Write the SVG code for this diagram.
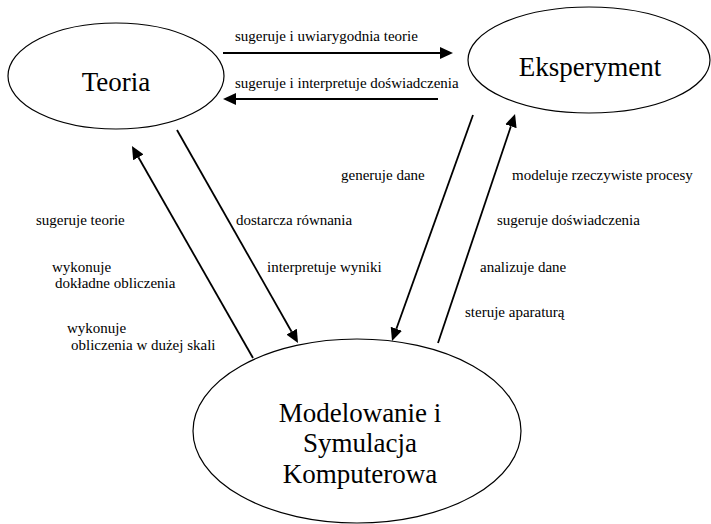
<svg xmlns="http://www.w3.org/2000/svg" width="711" height="524" viewBox="0 0 711 524">
  <style>
    .node { fill: #ffffff; stroke: #000000; stroke-width: 1.2; }
    .title { font-family: "Times New Roman", Tinos, "Liberation Serif", "DejaVu Serif", "Noto Serif", FreeSerif, serif; font-size: 27px; fill: #000000; text-anchor: middle; }
    .label { font-family: "Times New Roman", Tinos, "Liberation Serif", "DejaVu Serif", "Noto Serif", FreeSerif, serif; font-size: 15px; fill: #000000; }
    .edge { stroke: #000000; stroke-width: 1.8; fill: none; marker-end: url(#arrow); }
  </style>
  <defs>
    <marker id="arrow" markerUnits="userSpaceOnUse" markerWidth="13" markerHeight="12" refX="0" refY="6" orient="auto">
      <path d="M0,0 L13,6 L0,12 z" fill="#000000"/>
    </marker>
  </defs>
  <rect width="711" height="524" fill="#ffffff"/>

  <!-- nodes -->
  <g id="teoria">
    <ellipse class="node" cx="116" cy="76" rx="108" ry="53"/>
    <text class="title" x="116" y="91">Teoria</text>
  </g>
  <g id="eksperyment">
    <ellipse class="node" cx="589" cy="60" rx="121" ry="53"/>
    <text class="title" x="590" y="76">Eksperyment</text>
  </g>
  <g id="modelowanie">
    <ellipse class="node" cx="357" cy="431" rx="164" ry="92"/>
    <text class="title" x="360" y="422">Modelowanie i</text>
    <text class="title" x="360" y="452">Symulacja</text>
    <text class="title" x="360" y="483">Komputerowa</text>
  </g>

  <!-- connectors (each line stops at the arrowhead base) -->
  <g id="connectors">
    <line class="edge" x1="223" y1="53" x2="440" y2="53"/>
    <line class="edge" x1="438" y1="99" x2="236" y2="99"/>
    <line class="edge" x1="177" y1="130" x2="291.6" y2="331.7"/>
    <line class="edge" x1="253" y1="358" x2="138.4" y2="157.3"/>
    <line class="edge" x1="473" y1="115" x2="396.4" y2="328.8"/>
    <line class="edge" x1="438" y1="343" x2="510.9" y2="126.3"/>
  </g>

  <!-- connector labels -->
  <g id="labels">
    <text class="label" x="235" y="41">sugeruje i uwiarygodnia teorie</text>
    <text class="label" x="235" y="88">sugeruje i interpretuje doświadczenia</text>

    <text class="label" x="36" y="225">sugeruje teorie</text>
    <text class="label" x="52" y="272">wykonuje</text>
    <text class="label" x="55" y="288">dokładne obliczenia</text>
    <text class="label" x="67" y="333">wykonuje</text>
    <text class="label" x="71" y="350">obliczenia w dużej skali</text>

    <text class="label" x="236" y="225">dostarcza równania</text>
    <text class="label" x="267" y="272">interpretuje wyniki</text>

    <text class="label" x="341" y="180">generuje dane</text>

    <text class="label" x="512" y="180">modeluje rzeczywiste procesy</text>
    <text class="label" x="497" y="225">sugeruje doświadczenia</text>
    <text class="label" x="480" y="272">analizuje dane</text>
    <text class="label" x="465" y="317">steruje aparaturą</text>
  </g>
</svg>
